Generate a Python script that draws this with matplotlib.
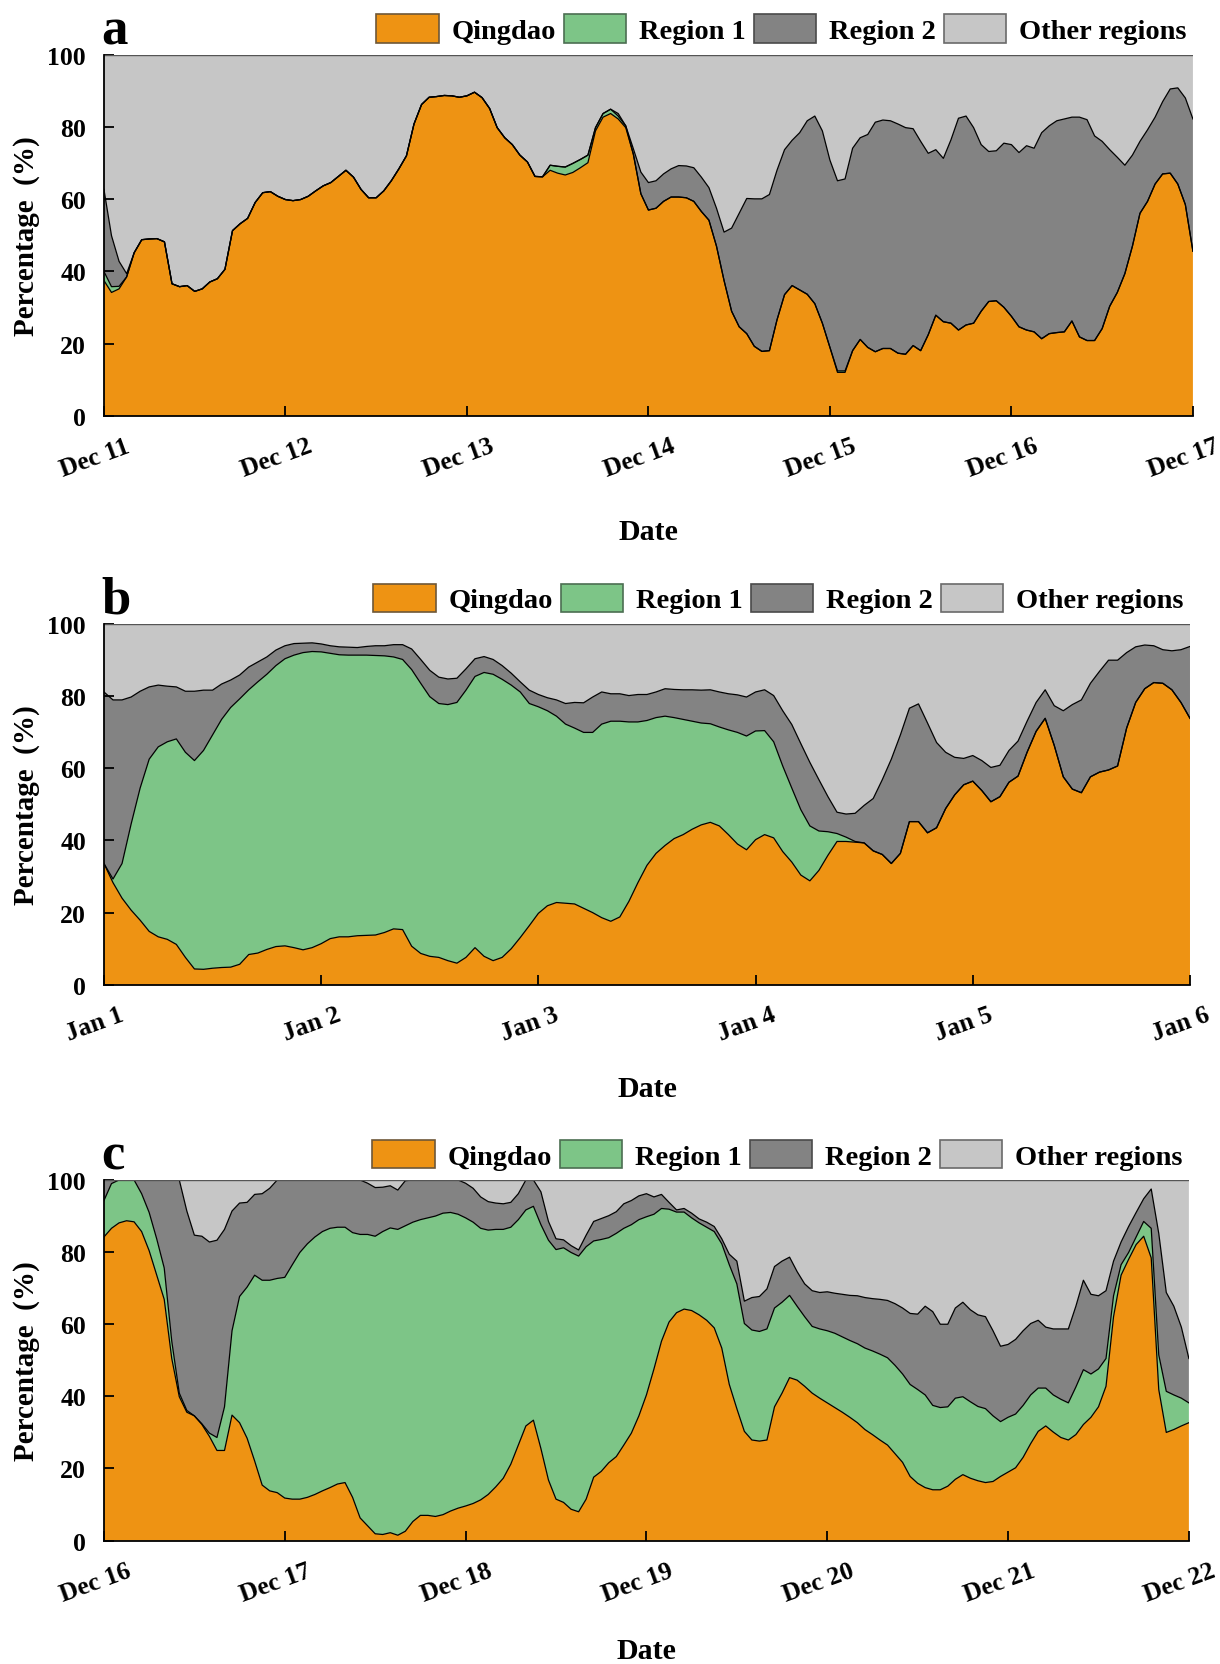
import matplotlib
matplotlib.use("Agg")
import matplotlib.pyplot as plt
import matplotlib.transforms as mtransforms
from matplotlib.patches import Patch
import numpy as np

# ---------- hourly source shares (%), one row = 12 hours

# panel a: Dec 11 - Dec 17
qingdao_a = [
    37.5, 34.2, 35.2, 38.5, 45.2, 48.8, 49.0, 49.1, 48.2, 36.6, 35.8, 36.1,
    34.5, 35.2, 37.1, 38.0, 40.6, 51.3, 53.2, 54.7, 59.1, 61.8, 62.1, 60.8,
    59.9, 59.6, 59.9, 60.8, 62.3, 63.7, 64.6, 66.3, 68.0, 66.1, 62.7, 60.4,
    60.4, 62.3, 65.1, 68.4, 72.0, 80.8, 86.2, 88.2, 88.4, 88.7, 88.6, 88.2,
    88.6, 89.6, 88.1, 85.1, 79.8, 77.0, 75.1, 72.2, 70.3, 66.3, 66.2, 68.0,
    67.2, 66.7, 67.4, 68.7, 70.1, 78.9, 82.7, 83.7, 82.2, 79.8, 72.5, 61.5,
    57.0, 57.5, 59.4, 60.6, 60.6, 60.4, 59.4, 56.6, 54.2, 47.0, 37.5, 29.0,
    24.7, 22.8, 19.3, 17.9, 18.1, 26.6, 33.6, 36.1, 34.9, 33.7, 31.1, 25.7,
    19.0, 12.1, 12.1, 18.1, 21.2, 19.0, 17.8, 18.7, 18.7, 17.4, 17.1, 19.5,
    18.1, 22.5, 27.9, 26.1, 25.7, 23.8, 25.2, 25.7, 29.0, 31.7, 31.9, 30.1,
    27.6, 24.7, 23.8, 23.3, 21.4, 22.8, 23.1, 23.3, 26.3, 21.9, 20.9, 20.9,
    24.2, 30.4, 34.2, 39.4, 47.0, 56.1, 59.4, 64.2, 67.0, 67.2, 64.2, 58.5,
    45.6,
]
region1_a = [
    2.5, 1.6, 0.7, 0.0, 0.0, 0.0, 0.0, 0.0, 0.0, 0.0, 0.0, 0.0,
    0.0, 0.0, 0.0, 0.0, 0.0, 0.0, 0.0, 0.0, 0.0, 0.0, 0.0, 0.0,
    0.0, 0.0, 0.0, 0.0, 0.0, 0.0, 0.0, 0.0, 0.0, 0.0, 0.0, 0.0,
    0.0, 0.0, 0.0, 0.0, 0.0, 0.0, 0.0, 0.0, 0.0, 0.0, 0.0, 0.0,
    0.0, 0.0, 0.0, 0.0, 0.0, 0.0, 0.0, 0.0, 0.0, 0.0, 0.0, 1.4,
    1.9, 2.2, 2.5, 2.3, 2.1, 0.9, 1.0, 1.2, 0.8, 0.5, 0.0, 0.0,
    0.0, 0.0, 0.0, 0.0, 0.0, 0.0, 0.0, 0.0, 0.0, 0.0, 0.0, 0.0,
    0.0, 0.0, 0.0, 0.0, 0.0, 0.0, 0.0, 0.0, 0.0, 0.0, 0.0, 0.0,
    0.0, 0.4, 0.4, 0.0, 0.0, 0.0, 0.0, 0.0, 0.0, 0.0, 0.0, 0.0,
    0.0, 0.0, 0.0, 0.0, 0.0, 0.0, 0.0, 0.0, 0.0, 0.0, 0.0, 0.0,
    0.0, 0.0, 0.0, 0.0, 0.0, 0.0, 0.0, 0.0, 0.0, 0.0, 0.0, 0.0,
    0.0, 0.0, 0.0, 0.0, 0.0, 0.0, 0.0, 0.0, 0.0, 0.0, 0.0, 0.0,
    0.0,
]
region2_a = [
    22.7, 14.1, 6.9, 0.9, 0.0, 0.0, 0.0, 0.0, 0.0, 0.0, 0.0, 0.0,
    0.0, 0.0, 0.0, 0.0, 0.0, 0.0, 0.0, 0.0, 0.0, 0.0, 0.0, 0.0,
    0.0, 0.0, 0.0, 0.0, 0.0, 0.0, 0.0, 0.0, 0.0, 0.0, 0.0, 0.0,
    0.0, 0.0, 0.0, 0.0, 0.0, 0.0, 0.0, 0.0, 0.0, 0.0, 0.0, 0.0,
    0.0, 0.0, 0.0, 0.0, 0.0, 0.0, 0.0, 0.0, 0.0, 0.0, 0.0, 0.0,
    0.0, 0.0, 0.0, 0.0, 0.0, 0.0, 0.0, 0.0, 0.7, 0.0, 1.5, 6.0,
    7.6, 7.6, 7.6, 7.8, 8.7, 8.8, 9.3, 9.5, 9.0, 10.5, 13.4, 23.0,
    31.4, 37.4, 40.8, 42.2, 43.2, 41.4, 40.1, 40.2, 43.5, 48.0, 51.9, 53.2,
    51.8, 52.6, 53.1, 56.0, 55.8, 58.9, 63.5, 63.2, 63.0, 63.4, 62.7, 60.0,
    57.9, 50.2, 45.8, 45.2, 50.7, 58.6, 57.8, 54.1, 46.1, 41.5, 41.5, 45.4,
    47.5, 48.2, 51.0, 50.8, 57.0, 57.5, 58.6, 58.9, 56.4, 60.8, 61.1, 56.6,
    51.8, 43.3, 37.4, 30.0, 25.2, 19.9, 19.8, 18.5, 20.0, 23.3, 26.6, 29.5,
    36.6,
]

# panel b: Jan 1 - Jan 6
qingdao_b = [
    33.6, 28.3, 24.0, 20.7, 17.9, 14.8, 13.3, 12.6, 11.2, 7.6, 4.4, 4.3,
    4.6, 4.8, 4.9, 5.7, 8.4, 8.8, 9.8, 10.6, 10.8, 10.3, 9.7, 10.3,
    11.4, 12.8, 13.3, 13.3, 13.6, 13.7, 13.8, 14.5, 15.5, 15.3, 10.7, 8.7,
    7.9, 7.6, 6.7, 6.0, 7.6, 10.3, 7.9, 6.7, 7.6, 10.0, 13.1, 16.4,
    19.8, 21.9, 22.8, 22.6, 22.4, 21.2, 20.0, 18.6, 17.6, 18.8, 23.1, 28.3,
    33.1, 36.4, 38.6, 40.5, 41.6, 43.1, 44.3, 45.0, 44.0, 41.6, 39.0, 37.4,
    40.2, 41.6, 40.7, 36.9, 34.0, 30.4, 28.8, 31.7, 35.9, 39.7, 39.7, 39.5,
    39.3, 37.1, 36.1, 33.6, 36.4, 45.2, 45.2, 42.1, 43.5, 48.8, 52.6, 55.4,
    56.4, 53.8, 50.7, 52.1, 56.1, 57.8, 64.4, 70.2, 73.8, 66.3, 57.6, 54.2,
    53.2, 57.6, 58.9, 59.5, 60.6, 71.1, 78.2, 82.0, 83.7, 83.5, 81.7, 78.2,
    73.8,
]
region1_b = [
    0.0, 1.0, 9.6, 23.8, 36.6, 47.7, 52.6, 54.7, 56.9, 56.8, 57.7, 60.6,
    64.6, 68.7, 71.9, 73.5, 73.3, 75.1, 76.2, 77.8, 79.5, 81.0, 82.3, 82.0,
    80.8, 79.0, 78.1, 78.0, 77.7, 77.6, 77.4, 76.6, 75.3, 74.8, 76.6, 74.8,
    71.9, 70.3, 70.9, 72.2, 74.0, 75.1, 78.6, 79.3, 77.0, 73.0, 68.0, 61.5,
    57.2, 54.0, 51.6, 49.6, 48.7, 48.7, 49.9, 53.6, 55.4, 54.2, 49.7, 44.5,
    40.1, 37.6, 35.8, 33.5, 31.9, 29.9, 28.2, 27.3, 27.4, 29.0, 30.9, 31.5,
    30.1, 28.8, 26.6, 23.7, 20.5, 18.1, 15.2, 10.9, 6.5, 2.2, 1.2, 0.2,
    0.0, 0.0, 0.0, 0.0, 0.0, 0.0, 0.0, 0.0, 0.0, 0.0, 0.0, 0.0,
    0.0, 0.0, 0.0, 0.0, 0.0, 0.0, 0.0, 0.0, 0.0, 0.0, 0.0, 0.0,
    0.0, 0.0, 0.0, 0.0, 0.0, 0.0, 0.0, 0.0, 0.0, 0.0, 0.0, 0.0,
    0.0,
]
region2_b = [
    47.5, 49.6, 45.3, 35.2, 26.8, 20.0, 17.1, 15.4, 14.4, 16.9, 19.2, 16.7,
    12.4, 9.8, 7.6, 6.6, 6.3, 5.5, 4.8, 4.3, 3.6, 3.2, 2.6, 2.4,
    2.2, 2.1, 2.2, 2.2, 2.1, 2.4, 2.7, 2.8, 3.4, 4.1, 5.7, 6.6,
    7.3, 7.3, 7.1, 6.7, 5.9, 4.9, 4.4, 4.1, 3.8, 3.3, 2.8, 3.7,
    3.4, 3.6, 4.5, 5.7, 7.1, 8.2, 9.8, 8.9, 7.6, 7.6, 7.3, 7.6,
    7.2, 7.1, 7.6, 7.8, 8.2, 8.7, 9.1, 9.4, 9.7, 10.0, 10.4, 10.8,
    10.8, 11.3, 12.8, 15.3, 17.6, 18.3, 17.6, 14.2, 9.7, 5.9, 6.4, 7.8,
    10.4, 14.5, 20.7, 28.9, 32.8, 31.4, 32.6, 30.4, 23.6, 15.6, 10.4, 7.3,
    7.1, 8.3, 9.5, 8.7, 8.8, 9.7, 8.6, 8.0, 7.9, 11.0, 18.3, 23.4,
    25.7, 25.9, 27.9, 30.4, 29.3, 20.9, 15.4, 12.1, 10.2, 9.3, 10.8, 14.6,
    19.9,
]

# panel c: Dec 16 - Dec 22
qingdao_c = [
    84.2, 86.6, 88.1, 88.7, 88.4, 85.7, 80.4, 73.6, 66.9, 50.5, 39.9, 35.6,
    34.6, 32.2, 28.9, 25.0, 25.0, 34.8, 32.7, 28.4, 22.1, 15.4, 13.8, 13.3,
    11.8, 11.5, 11.5, 12.0, 12.8, 13.8, 14.7, 15.7, 16.1, 12.0, 6.3, 4.1,
    1.9, 1.7, 2.2, 1.5, 2.6, 5.3, 7.0, 7.0, 6.7, 7.2, 8.2, 9.0,
    9.6, 10.3, 11.3, 12.8, 14.9, 17.3, 21.2, 26.5, 31.8, 33.4, 25.5, 16.8,
    11.5, 10.6, 8.7, 8.0, 11.5, 17.6, 19.2, 21.6, 23.3, 26.5, 29.8, 34.6,
    40.4, 47.6, 55.3, 60.6, 63.2, 64.2, 63.8, 62.6, 61.1, 59.0, 53.4, 43.3,
    36.6, 30.3, 27.9, 27.6, 27.9, 37.1, 40.9, 45.2, 44.5, 42.8, 40.9, 39.5,
    38.2, 36.9, 35.6, 34.2, 32.7, 30.8, 29.4, 27.9, 26.5, 24.1, 21.7, 17.8,
    15.9, 14.7, 14.1, 14.1, 15.1, 17.0, 18.3, 17.3, 16.6, 16.1, 16.4, 17.8,
    19.0, 20.2, 23.1, 26.9, 30.3, 31.8, 30.1, 28.6, 27.9, 29.4, 32.2, 34.2,
    37.1, 42.8, 62.1, 73.6, 78.0, 82.1, 84.4, 78.4, 41.9, 30.0, 30.8, 31.8,
    32.7,
]
region1_c = [
    10.1, 12.4, 11.9, 11.3, 11.6, 10.5, 10.6, 10.1, 8.7, 4.8, 1.0, 0.5,
    0.0, 0.2, 0.9, 3.6, 12.1, 23.4, 35.0, 41.9, 51.5, 56.8, 58.4, 59.4,
    61.2, 65.0, 68.4, 70.3, 71.4, 71.9, 71.9, 71.2, 70.8, 73.4, 78.6, 80.8,
    82.5, 84.0, 84.5, 84.8, 84.7, 83.0, 82.0, 82.5, 83.3, 83.6, 82.8, 81.5,
    79.9, 78.0, 75.3, 73.3, 71.4, 69.0, 65.7, 62.5, 59.9, 59.3, 62.1, 66.5,
    69.2, 70.6, 71.2, 70.9, 70.0, 65.5, 64.3, 62.4, 61.9, 60.1, 57.8, 54.4,
    49.4, 42.9, 36.8, 31.3, 27.9, 26.9, 25.7, 25.5, 25.8, 26.7, 28.9, 33.2,
    34.6, 29.9, 30.5, 30.4, 30.8, 27.4, 25.2, 22.8, 20.5, 19.3, 18.5, 19.2,
    20.0, 20.6, 20.9, 21.3, 21.9, 22.6, 23.2, 23.8, 24.2, 24.5, 24.5, 25.5,
    26.0, 25.7, 23.4, 22.8, 22.0, 22.5, 21.6, 21.2, 20.6, 20.5, 18.2, 15.2,
    15.2, 14.9, 14.4, 13.5, 12.0, 10.5, 10.3, 10.6, 10.3, 13.2, 15.2, 12.0,
    10.5, 7.7, 5.8, 2.9, 1.9, 2.1, 4.1, 8.2, 9.6, 11.4, 9.6, 7.7,
    5.5,
]
region2_c = [
    5.7, 1.0, 0.0, 0.0, 0.0, 3.8, 9.0, 16.3, 24.4, 44.7, 59.1, 55.3,
    50.1, 52.0, 53.0, 54.7, 49.2, 33.2, 25.9, 23.5, 22.4, 24.0, 25.5, 27.3,
    27.0, 23.5, 20.1, 17.7, 15.8, 14.3, 13.4, 13.1, 13.1, 14.6, 15.1, 14.2,
    13.5, 12.3, 11.7, 10.9, 12.5, 11.7, 11.0, 10.5, 10.0, 9.2, 9.0, 9.5,
    9.6, 9.4, 8.7, 7.9, 7.3, 7.1, 6.9, 7.2, 8.3, 7.3, 9.1, 5.2,
    3.0, 2.2, 1.9, 1.7, 3.2, 5.4, 5.8, 6.1, 6.0, 6.8, 6.7, 6.6,
    6.4, 4.8, 3.9, 1.9, 0.6, 1.0, 1.3, 1.1, 1.4, 1.4, 1.4, 2.9,
    6.3, 6.2, 9.0, 9.7, 11.1, 11.5, 11.4, 10.6, 9.6, 9.1, 9.9, 10.1,
    10.8, 11.1, 11.8, 12.5, 13.3, 14.0, 14.5, 15.2, 15.9, 17.1, 18.3, 19.7,
    20.9, 24.6, 26.0, 23.1, 22.9, 25.0, 26.2, 25.5, 25.4, 25.5, 23.6, 20.9,
    20.2, 20.7, 20.7, 19.8, 18.8, 16.9, 18.3, 19.5, 20.5, 22.4, 24.8, 22.1,
    20.3, 18.8, 9.6, 6.3, 7.2, 6.8, 6.3, 10.9, 33.7, 27.4, 24.6, 19.7,
    12.3,
]

dias_a = ['Dec 11', 'Dec 12', 'Dec 13', 'Dec 14', 'Dec 15', 'Dec 16', 'Dec 17']
dias_b = ['Jan 1', 'Jan 2', 'Jan 3', 'Jan 4', 'Jan 5', 'Jan 6']
dias_c = ['Dec 16', 'Dec 17', 'Dec 18', 'Dec 19', 'Dec 20', 'Dec 21', 'Dec 22']

nomes = ['Qingdao', 'Region 1', 'Region 2', 'Other regions']
cores = ['#EE9313', '#7DC587', '#838383', '#C6C6C6']
bordas = ['#6E5838', '#4C6E52', '#4A4A4A', '#6A6A6A']

plt.rcParams['font.family'] = ['Liberation Serif', 'DejaVu Serif']
plt.rcParams['font.weight'] = 'bold'
plt.rcParams['axes.labelweight'] = 'bold'

fig = plt.figure(figsize=(12.2, 16.65), dpi=100)

# posicoes dos tres paineis (left, bottom, width, height)
paineis = [
    ('a', [0.0852, 0.7495, 0.8926, 0.2171], qingdao_a, region1_a, region2_a, dias_a, -0.283),
    ('b', [0.0852, 0.4079, 0.8902, 0.2169], qingdao_b, region1_b, region2_b, dias_b, -0.249),
    ('c', [0.0852, 0.0741, 0.8893, 0.2166], qingdao_c, region1_c, region2_c, dias_c, -0.266),
]

for letra, pos, q, r1, r2, dias, y_date in paineis:
    ax = fig.add_axes(pos)
    q = np.array(q)
    r1 = np.array(r1)
    r2 = np.array(r2)
    outros = np.clip(100 - (q + r1 + r2), 0, None)
    x = np.arange(len(q)) / 24.0

    # areas empilhadas sem borda, depois as linhas de contorno
    ax.stackplot(x, q, r1, r2, outros, colors=cores, linewidth=0)
    acumulado = np.cumsum(np.vstack([q, r1, r2, outros]), axis=0)
    for k in range(3):
        ax.plot(x, acumulado[k], color='black', lw=0.9)
    ax.plot(x, acumulado[3], color='#555555', lw=1.0)

    ax.set_xlim(0, len(dias) - 1)
    ax.set_ylim(0, 100)
    ax.set_yticks(range(0, 101, 20))
    ax.set_xticks(range(len(dias)))
    ax.set_xticklabels(dias, rotation=20, ha='center')

    for s in ['top', 'right']:
        ax.spines[s].set_visible(False)
    for s in ['left', 'bottom']:
        ax.spines[s].set_linewidth(1.3)
        ax.spines[s].set_zorder(5)

    ax.tick_params(direction='in', length=7, width=1.3, labelsize=18.5, pad=13)
    desloca = mtransforms.ScaledTranslation(-9 / 100, 0, fig.dpi_scale_trans)
    for lab in ax.get_xticklabels():
        lab.set_transform(lab.get_transform() + desloca)

    ax.set_ylabel('Percentage  (%)', fontsize=21)
    ax.yaxis.set_label_coords(-0.059, 0.5)
    ax.set_xlabel('Date', fontsize=21.5)
    ax.xaxis.set_label_coords(0.5, y_date)

    # letra do painel
    trans_letra = mtransforms.offset_copy(ax.transAxes, fig=fig, x=-3, y=11.5, units='dots')
    ax.text(0, 1, letra, transform=trans_letra, fontsize=38, fontweight='bold',
            ha='left', va='baseline')

    handles = [Patch(facecolor=c, edgecolor=b, linewidth=1.2) for c, b in zip(cores, bordas)]
    ax.legend(handles, nomes, ncol=4, loc='lower right', bbox_to_anchor=(1.002, 1.005),
              frameon=False, fontsize=20.5, handlelength=2.2, handleheight=1.15,
              handletextpad=0.45, columnspacing=0.27, borderaxespad=0.3, borderpad=0)

fig.savefig('out.png', dpi=100)
